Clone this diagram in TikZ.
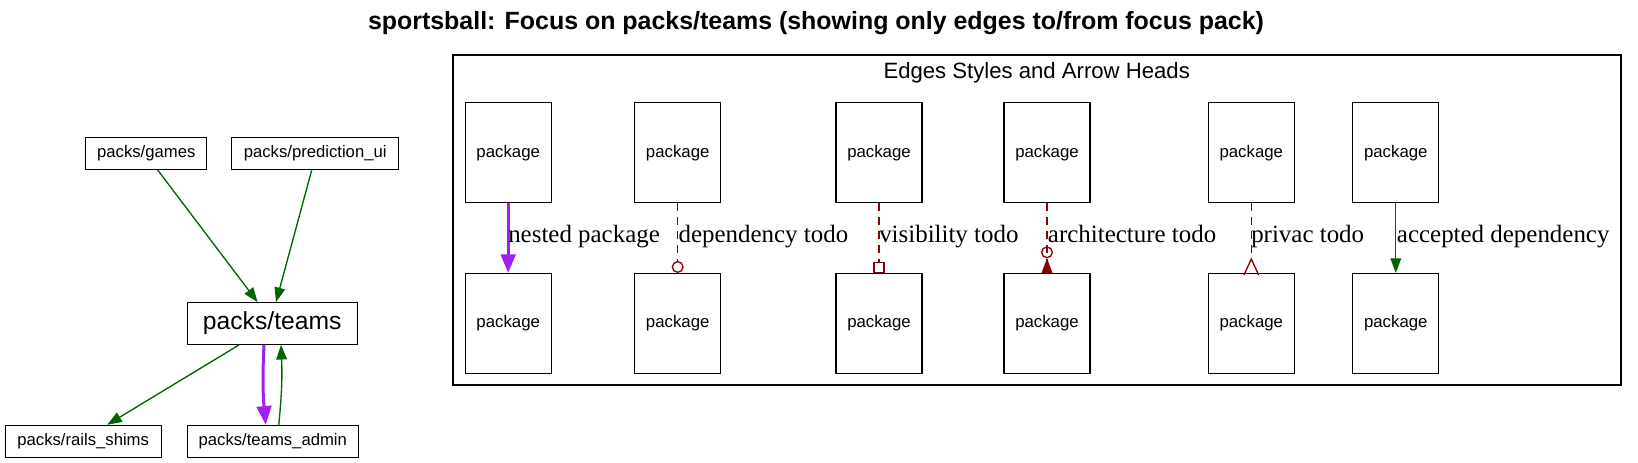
\documentclass[tikz,border=0pt]{standalone}
\usepackage{fontspec}
\setmainfont{Liberation Sans}
\newfontfamily\labelfont{Liberation Serif}
\usetikzlibrary{arrows.meta}
\definecolor{dgreen}{HTML}{006400}
\definecolor{xpurple}{HTML}{A020F0}
\definecolor{dred}{HTML}{8B0000}
\begin{document}
\begin{tikzpicture}[x=0.75pt,y=-0.75pt,
  box/.style={draw, line width=0.8pt, inner sep=0pt, minimum height=24.3pt, font=\fontsize{12.5}{14}\selectfont},
  pkg/.style={draw, line width=0.8pt, inner sep=0pt, minimum width=64.5pt, minimum height=75pt, font=\fontsize{12.6}{14}\selectfont},
  lbl/.style={anchor=base west, inner sep=0pt, font=\labelfont\fontsize{18.7}{20}\selectfont},
  dep/.style={draw=dgreen, line width=1pt, -{Triangle[length=11pt,width=8pt]}},
  nest/.style={draw=xpurple, line width=2.25pt, -{Triangle[length=14pt,width=11pt]}},
  todo/.style={draw=dred, line width=1pt, dash pattern=on 6pt off 4.5pt},
]
\useasboundingbox (0,0) rectangle (1638,463);

% title
\node[anchor=base, inner sep=0pt, font=\bfseries\fontsize{18.7}{20}\selectfont] (title) at (816,30)
  {sportsball: Focus on packs/teams (showing only edges to/from focus pack)};

% left graph
\node[box, minimum width=90.75pt] (games) at (146.3,153.3) {packs/games};
\node[box, minimum width=125.25pt] (pred) at (315.2,153.3) {packs/prediction\_ui};
\node[box, minimum width=127.3pt, minimum height=31.2pt, font=\fontsize{18.5}{20}\selectfont] (teams) at (272.2,323.5) {packs/teams};
\node[box, minimum width=117.2pt] (rails) at (83.2,441.5) {packs/rails\_shims};
\node[box, minimum width=128.25pt] (admin) at (272.8,441.5) {packs/teams\_admin};

\draw[dep] ([xshift=8.55pt]games.south) -- ([xshift=-10.9pt]teams.north);
\draw[dep] ([xshift=-2.6pt]pred.south) -- ([xshift=2.85pt]teams.north);
\draw[dep] ([xshift=-24.75pt]teams.south) -- ([xshift=18pt]rails.north);
\draw[nest] ([xshift=-6.15pt]teams.south) to[bend right=4] ([xshift=-5.3pt]admin.north);
\draw[dep] ([xshift=4.5pt]admin.north) to[bend right=4] ([xshift=6.6pt]teams.south);

% legend cluster
\node[draw, line width=0.8pt, minimum width=876pt, minimum height=247.5pt, inner sep=0pt] (legend) at (1037,220) {};
\node[anchor=base, inner sep=0pt, font=\fontsize{16.6}{18}\selectfont] (legendtitle) at (1036.7,78.3) {Edges Styles and Arrow Heads};

\node[pkg] (a1) at (508.2,152.7) {package};
\node[pkg] (b1) at (508.2,323.5) {package};
\node[pkg] (a2) at (677.7,152.7) {package};
\node[pkg] (b2) at (677.7,323.5) {package};
\node[pkg] (a3) at (879,152.7) {package};
\node[pkg] (b3) at (879,323.5) {package};
\node[pkg] (a4) at (1047,152.7) {package};
\node[pkg] (b4) at (1047,323.5) {package};
\node[pkg] (a5) at (1251.3,152.7) {package};
\node[pkg] (b5) at (1251.3,323.5) {package};
\node[pkg] (a6) at (1395.8,152.7) {package};
\node[pkg] (b6) at (1395.8,323.5) {package};

\draw[nest] (a1.south) -- (b1.north);
\draw[todo, -{Circle[open,length=9pt]}] (a2.south) -- (b2.north);
\draw[todo, -{Square[open,length=8.5pt]}] (a3.south) -- (b3.north);
\draw[todo, -{Circle[open,length=9pt] Triangle[reversed,length=11pt,width=8pt]}] (a4.south) -- (b4.north);
\draw[todo, -{Straight Barb[reversed,length=12pt,width=11pt]}] (a5.south) -- ([yshift=-2pt]b5.north);
\draw[dep] (a6.south) -- (b6.north);

\node[lbl] (l1) at (508,243) {nested package};
\node[lbl] (l2) at (678.3,243) {dependency todo};
\node[lbl] (l3) at (879,243) {visibility todo};
\node[lbl] (l4) at (1047.7,243) {architecture todo};
\node[lbl] (l5) at (1251,243) {privac todo};
\node[lbl] (l6) at (1396.7,243) {accepted dependency};
\end{tikzpicture}
\end{document}
